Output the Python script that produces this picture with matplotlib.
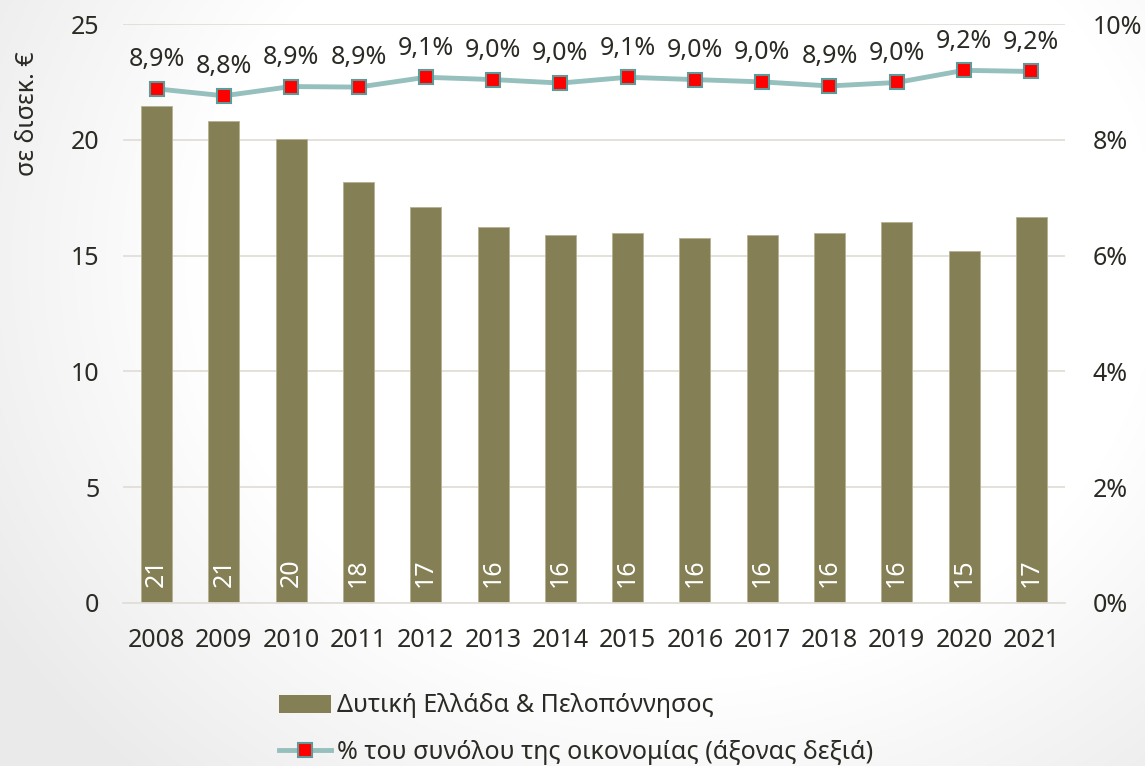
import matplotlib
matplotlib.use('Agg')
import matplotlib.pyplot as plt
import numpy as np
from matplotlib.patches import Patch
from matplotlib.lines import Line2D

plt.rcParams['font.family'] = ['Noto Sans', 'DejaVu Sans']

years = ['2008', '2009', '2010', '2011', '2012', '2013', '2014',
         '2015', '2016', '2017', '2018', '2019', '2020', '2021']
gva_bn = [21.45, 20.8, 20.03, 18.18, 17.1, 16.23, 15.89,
          15.98, 15.76, 15.89, 15.98, 16.45, 15.2, 16.67]
share_pct = [8.88, 8.76, 8.92, 8.91, 9.08, 9.04, 8.98,
             9.08, 9.04, 9.0, 8.93, 8.99, 9.2, 9.18]

bar_label = 'Δυτική Ελλάδα & Πελοπόννησος'
line_label = '% του συνόλου της οικονομίας (άξονας δεξιά)'
ylabel = 'σε δισεκ. €'

BAR = '#847F55'
LINE = '#96C0BD'
MEDGE = '#5E9A98'
TXT = '#2B2A24'
GRID = '#E2DED8'
FS = 18

W, H = 1145, 766
fig = plt.figure(figsize=(W / 100, H / 100), dpi=100)

# faint grey vignette on the left side of the slide background
bg = fig.add_axes([0, 0, 1, 1], zorder=-10)
yy, xx = np.mgrid[0:H, 0:W]
r = np.sqrt(((xx - 680) / 640.0) ** 2 + ((yy - 260) / 560.0) ** 2)
shade = 1 - 0.08 * np.clip((r - 0.75) / 0.5, 0, 1)
bg.imshow(np.dstack([shade] * 3), aspect='auto', extent=[0, 1, 0, 1])
bg.axis('off')

ax = fig.add_axes([123 / W, 1 - 603 / H, (1065 - 123) / W, (603 - 24) / H])
ax.patch.set_alpha(0)
x = np.arange(len(years))
ax.bar(x, gva_bn, width=0.46, color=BAR, edgecolor='#B5B192', linewidth=0.6, zorder=2)
for xi, v in zip(x, gva_bn):
    ax.text(xi, 0.7, f'{v:.0f}', rotation=90, ha='center', va='bottom',
            color='white', fontsize=FS, zorder=3)

ax.set_xlim(-0.5, len(years) - 0.5)
ax.set_ylim(0, 25)
ax.set_yticks([0, 5, 10, 15, 20, 25])
ax.set_xticks(x)
ax.set_xticklabels(years)
ax.yaxis.grid(True, color=GRID, linewidth=1.3, zorder=0)
ax.set_axisbelow(True)
for s in ['top', 'right', 'left']:
    ax.spines[s].set_visible(False)
ax.spines['bottom'].set_color(GRID)
ax.spines['bottom'].set_linewidth(1.3)
ax.tick_params(axis='both', length=0, labelsize=FS, colors=TXT)
ax.tick_params(axis='y', pad=17)
ax.tick_params(axis='x', pad=18)

ax2 = ax.twinx()
ax2.plot(x, share_pct, color=LINE, linewidth=3.5, marker='s', markersize=10.5,
         markerfacecolor='#FF0000', markeredgecolor=MEDGE, markeredgewidth=1.5, zorder=4)
for xi, v in zip(x, share_pct):
    ax2.annotate(f'{v:.1f}%'.replace('.', ','), (xi, v), xytext=(0, 12),
                 textcoords='offset points', ha='center', va='bottom',
                 color=TXT, fontsize=FS)
ax2.set_ylim(0, 10)
ax2.set_yticks([0, 2, 4, 6, 8, 10])
ax2.set_yticklabels([f'{t}%' for t in [0, 2, 4, 6, 8, 10]])
for s in ax2.spines.values():
    s.set_visible(False)
ax2.tick_params(axis='y', which='major', length=0, labelsize=FS,
                labelcolor=TXT, pad=20)

fig.text(27 / W, 1 - 114 / H, ylabel, rotation=90, ha='center', va='center',
         color=TXT, fontsize=FS)

handles = [Patch(facecolor=BAR, edgecolor='none'),
           Line2D([], [], color=LINE, linewidth=3.5, marker='s', markersize=10.5,
                  markerfacecolor='#FF0000', markeredgecolor=MEDGE, markeredgewidth=1.5)]
fig.legend(handles, [bar_label, line_label], loc='upper left',
           bbox_to_anchor=(256 / W, 1 - 671 / H), frameon=False, fontsize=FS,
           labelcolor=TXT, handlelength=2.1, handleheight=0.7, handletextpad=0.25,
           labelspacing=0.85)

fig.savefig('out.png', dpi=100)
